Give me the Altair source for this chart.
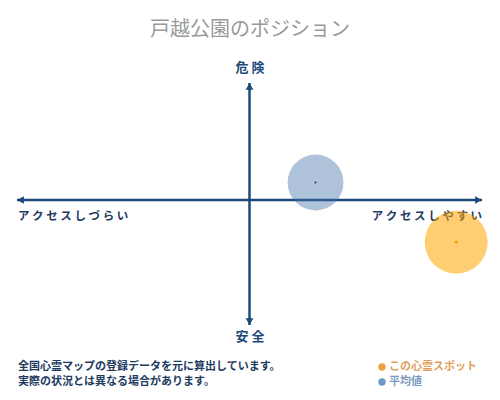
import altair as alt
import pandas as pd

# ---- content / data ----
TITLE = ["戸越公園のポジション"]
Y_TOP_LABEL = ["危 険"]
Y_BOTTOM_LABEL = ["安 全"]
X_LEFT_LABEL = ["ア ク セ ス し づ ら い"]
X_RIGHT_LABEL = ["ア ク セ ス し や す い"]
NOTE_LINES = ["全国心霊マップの登録データを元に算出しています。",
              "実際の状況とは異なる場合があります。"]
SERIES = ["この心霊スポット", "平均値"]
SERIES_X = [0.889, 0.284]     # access (-1 hard .. 1 easy)
SERIES_Y = [-0.338, 0.14]     # danger (-1 safe .. 1 dangerous)
AXIS_X_ENDS = [-1.0, 1.0]
AXIS_Y_ENDS = [-1.0, 0.936]

# ---- styles ----
NAVY = "#1b4a7a"
TEXT_NAVY = "#1e3a5f"
FONT = "Noto Sans CJK JP"
W, H = 484, 384

BUBBLE_COLOR = ["#ffa500", "#3e6fa8"]
BUBBLE_OPACITY = [0.55, 0.42]
BUBBLE_SIZE = [3960, 3120]
CENTER_SHAPE = ["diamond", "circle"]
CENTER_COLOR = ["#f0a020", "#1e3a5f"]
CENTER_SIZE = [18, 4]
LEG_DOT_COLOR = ["#f0a040", "#6b98c6"]
LEG_TEXT_COLOR = ["#e0a060", "#7b9cc0"]

xs = alt.Scale(domain=[-1, 1], range=[9, 474])
ys = alt.Scale(domain=[-1, 1], range=[317, 67])
X = lambda f: alt.X(f, scale=xs, axis=None)
Y = lambda f: alt.Y(f, scale=ys, axis=None)

layers = []

# axes lines
h_df = pd.DataFrame({"x": [AXIS_X_ENDS[0]], "x2": [AXIS_X_ENDS[1]], "y": [0.0]})
v_df = pd.DataFrame({"y": [AXIS_Y_ENDS[0]], "y2": [AXIS_Y_ENDS[1]], "x": [0.0]})
layers.append(alt.Chart(h_df).mark_rule(color=NAVY, strokeWidth=2.5).encode(
    x=X("x:Q"), x2="x2:Q", y=Y("y:Q")))
layers.append(alt.Chart(v_df).mark_rule(color=NAVY, strokeWidth=2.5).encode(
    y=Y("y:Q"), y2="y2:Q", x=X("x:Q")))

# arrow heads
heads = [
    (AXIS_X_ENDS[0], 0.0, "triangle-left", 3.5, 0),
    (AXIS_X_ENDS[1], 0.0, "triangle-right", -3.5, 0),
    (0.0, AXIS_Y_ENDS[1], "triangle-up", 0, 3.5),
    (0.0, AXIS_Y_ENDS[0], "triangle-down", 0, -3.5),
]
for hx, hy, shp, dx, dy in heads:
    df = pd.DataFrame({"x": [hx], "y": [hy]})
    layers.append(alt.Chart(df).mark_point(
        shape=shp, filled=True, color=NAVY, opacity=1, size=60,
        xOffset=dx, yOffset=dy).encode(x=X("x:Q"), y=Y("y:Q")))


def text_layer(texts, px, py, size, color, align="center", weight="bold"):
    df = pd.DataFrame({"t": texts})
    return alt.Chart(df).mark_text(
        font=FONT, fontSize=size, color=color, align=align,
        baseline="middle", fontWeight=weight).encode(
        text="t:N", x=alt.value(px), y=alt.value(py))


layers.append(text_layer(TITLE, 242, 22, 20, "#999999", weight="normal"))
layers.append(text_layer(Y_TOP_LABEL, 242, 60, 13, NAVY))
layers.append(text_layer(Y_BOTTOM_LABEL, 242, 329, 13, NAVY))
layers.append(text_layer(X_LEFT_LABEL, 10, 209, 11.5, TEXT_NAVY, align="left"))
layers.append(text_layer(X_RIGHT_LABEL, 474, 209, 11.5, TEXT_NAVY, align="right"))

# bubbles + centre markers
for i, name in enumerate(SERIES):
    df = pd.DataFrame({"series": [name], "x": [SERIES_X[i]], "y": [SERIES_Y[i]]})
    layers.append(alt.Chart(df).mark_circle(
        color=BUBBLE_COLOR[i], opacity=BUBBLE_OPACITY[i], size=BUBBLE_SIZE[i]).encode(
        x=X("x:Q"), y=Y("y:Q")))
for i, name in enumerate(SERIES):
    df = pd.DataFrame({"series": [name], "x": [SERIES_X[i]], "y": [SERIES_Y[i]]})
    layers.append(alt.Chart(df).mark_point(
        shape=CENTER_SHAPE[i], filled=True, color=CENTER_COLOR[i], opacity=1,
        size=CENTER_SIZE[i]).encode(x=X("x:Q"), y=Y("y:Q")))

# footnote
layers.append(text_layer([NOTE_LINES[0]], 10, 359, 11, TEXT_NAVY, align="left"))
layers.append(text_layer([NOTE_LINES[1]], 10, 374, 11, TEXT_NAVY, align="left"))

# legend
for i, name in enumerate(SERIES):
    py = 359 + 15 * i
    ddf = pd.DataFrame({"s": [name]})
    layers.append(alt.Chart(ddf).mark_circle(color=LEG_DOT_COLOR[i], opacity=1, size=55).encode(
        x=alt.value(374), y=alt.value(py)))
    layers.append(text_layer([name], 381, py, 11, LEG_TEXT_COLOR[i], align="left"))

chart = alt.layer(*layers).properties(
    width=W, height=H,
    autosize=alt.AutoSizeParams(type="none"),
    padding=0,
    background="white",
).configure_view(stroke=None)

chart.save("out.html", embed_options={"renderer": "svg", "actions": False})
